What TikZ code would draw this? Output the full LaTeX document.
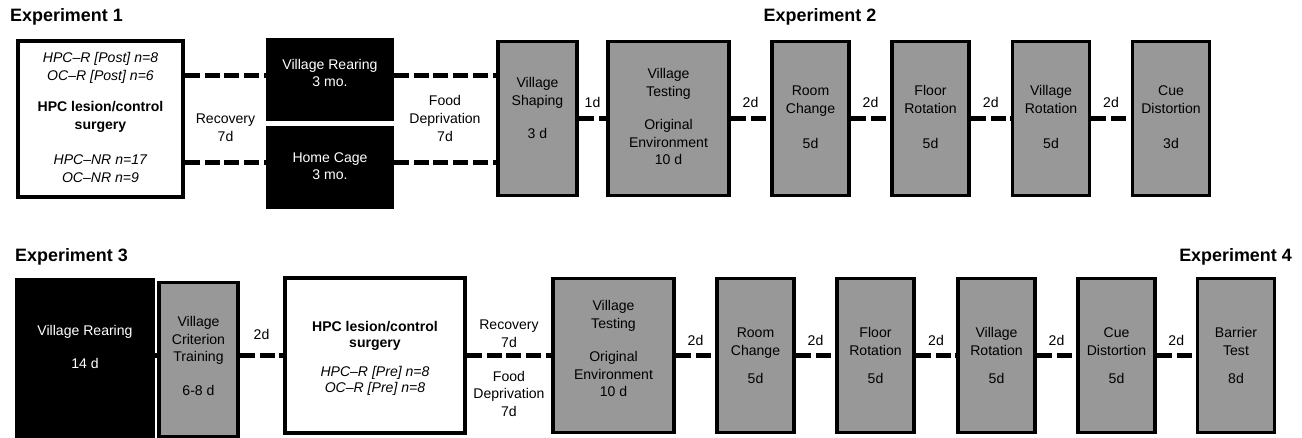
\documentclass[tikz,border=0pt]{standalone}
\usepackage{fontspec}
\setmainfont{Liberation Sans}
\definecolor{phasegray}{RGB}{152,152,152}
\tikzset{
	phase/.style = {draw, line width = 2pt, fill = phasegray, minimum width = 1.54cm, minimum height = 3.08cm, inner sep = 0pt},
	housing/.style = {draw, line width = 2pt, fill = black, text = white, minimum width = 2.48cm, minimum height = 1.58cm, inner sep = 0pt},
	surgery/.style = {draw, line width = 2pt, fill = white, minimum height = 3.1cm, inner sep = 0pt},
	delay/.style = {line width = 2.8pt, dash pattern = on 8.5pt off 2.8pt},
	head/.style = {font = \fontsize{10.2}{12}\selectfont\bfseries}
}
\begin{document}
\begin{tikzpicture}[x = 0.02cm, y = -0.02cm, font = \fontsize{8}{10}\selectfont, align = center]
	\useasboundingbox ( 0, 0 ) rectangle ( 1302, 437 );
	% experiments 1 and 2
	\node [head, anchor = west] (exp1) at ( 4, 17 ) {Experiment 1};
	\node [head] (exp2) at ( 820, 17 ) {Experiment 2};
	\node [surgery, minimum width = 3.3cm, minimum height = 3.12cm] (surg1) at ( 100.5, 119 ) {\mbox{}\\[-6pt]\textit{HPC–R [Post] n=8}\\\textit{OC–R [Post] n=6}\\[8pt]\textbf{HPC lesion/control}\\\textbf{surgery}\\[10pt]\textit{HPC–NR n=17}\\\textit{OC–NR n=9}};
	\node [housing] (rear1) at ( 330, 79.5 ) {Village Rearing\\3 mo.\\[-2.6pt]\mbox{}};
	\node [housing] (home1) at ( 330, 167.5 ) {\mbox{}\\[-6pt]Home Cage\\3 mo.};
	\node [phase, minimum width = 1.58cm] (shape1) at ( 537.5, 118.5 ) {Village\\Shaping\\[9pt]3 d\\[2pt]\mbox{}};
	\node [phase, minimum width = 2.42cm] (test1) at ( 668.5, 118.5 ) {\mbox{}\\[-6pt]Village\\Testing\\[9pt]Original\\Environment\\10 d};
	\node [phase] (room1) at ( 810.5, 118.5 ) {\mbox{}\\[-6pt]Room\\Change\\[10pt]5d};
	\node [phase] (floor1) at ( 930.5, 118.5 ) {\mbox{}\\[-6pt]Floor\\Rotation\\[10pt]5d};
	\node [phase] (vrot1) at ( 1051, 118.5 ) {\mbox{}\\[-6pt]Village\\Rotation\\[10pt]5d};
	\node [phase] (cue1) at ( 1171, 118.5 ) {\mbox{}\\[-6pt]Cue\\Distortion\\[10pt]3d};
	\draw [delay] ([yshift = 2.5pt]rear1.west -| surg1.east) -- ([yshift = 2.5pt]rear1.west);
	\draw [delay] ([yshift = 2.5pt]rear1.east) -- ([yshift = 2.5pt]rear1.east -| shape1.west);
	\draw [delay] ([yshift = 3pt]home1.west -| surg1.east) -- ([yshift = 3pt]home1.west);
	\draw [delay] ([yshift = 3pt]home1.east) -- ([yshift = 3pt]home1.east -| shape1.west);
	\node (rec1) at ( 225.5, 127.5 ) {Recovery\\7d};
	\node (food1) at ( 445, 118.5 ) {Food\\Deprivation\\7d};
	\draw [delay] (shape1) -- node [above = 1.5pt] {1d} (test1);
	\foreach \a/\b in {test1/room1, room1/floor1, floor1/vrot1, vrot1/cue1}
		\draw [delay] (\a) -- node [above = 1.5pt] {2d} (\b);
	% experiments 3 and 4
	\node [head, anchor = west] (exp3) at ( 9, 257 ) {Experiment 3};
	\node [head, anchor = east] (exp4) at ( 1298, 257 ) {Experiment 4};
	\node [housing, minimum width = 2.72cm, minimum height = 3.2cm] (rear2) at ( 85, 360 ) {Village Rearing\\[9pt]14 d\\[4.8pt]\mbox{}};
	\node [phase, minimum width = 1.58cm] (crit) at ( 198.5, 359.5 ) {Village\\Criterion\\Training\\[9pt]6-8 d\\[-6pt]\mbox{}};
	\node [surgery, minimum width = 3.6cm] (surg2) at ( 375, 355.5 ) {\mbox{}\\[-1pt]\textbf{HPC lesion/control}\\[-1pt]\textbf{surgery}\\[7pt]\textit{HPC–R [Pre] n=8}\\[-1pt]\textit{OC–R [Pre] n=8}};
	\node [phase, minimum width = 2.42cm] (test2) at ( 613.5, 355.5 ) {Village\\Testing\\[9pt]Original\\Environment\\10 d\\[-2pt]\mbox{}};
	\node [phase] (room2) at ( 755.5, 355.5 ) {Room\\Change\\[6pt]5d};
	\node [phase] (floor2) at ( 875.5, 355.5 ) {Floor\\Rotation\\[6pt]5d};
	\node [phase] (vrot2) at ( 996.5, 355.5 ) {Village\\Rotation\\[6pt]5d};
	\node [phase] (cue2) at ( 1116.5, 355.5 ) {Cue\\Distortion\\[6pt]5d};
	\node [phase] (barrier) at ( 1236, 355.5 ) {Barrier\\Test\\[6pt]8d};
	\draw [delay] (rear2.east |- surg2) -- (crit.west |- surg2);
	\draw [delay] (crit.east |- surg2) -- node [above = 4.5pt] {2d} (surg2);
	\draw [delay] (surg2) -- node [above = 0pt] {Recovery\\7d} node [below = 4pt] {Food\\Deprivation\\7d} (test2);
	\foreach \a/\b in {test2/room2, room2/floor2, floor2/vrot2, vrot2/cue2, cue2/barrier}
		\draw [delay] (\a) -- node [above = 1pt] {2d} (\b);
\end{tikzpicture}
\end{document}
